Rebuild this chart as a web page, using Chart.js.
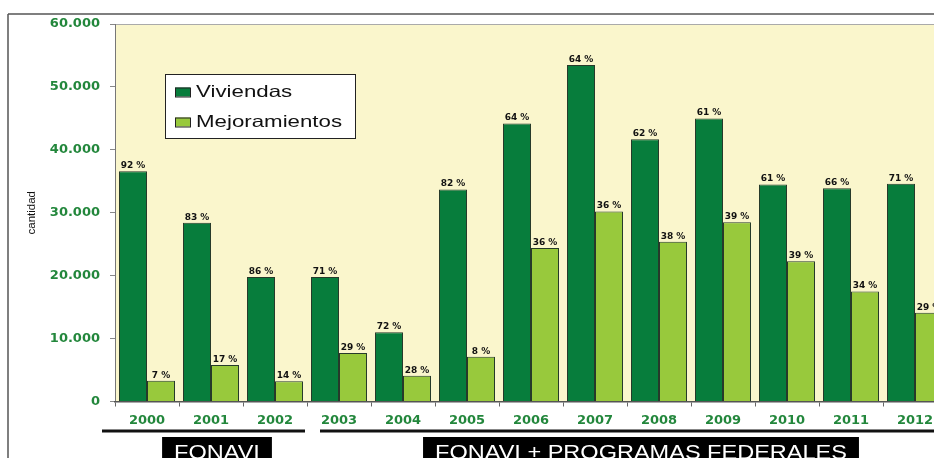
<!DOCTYPE html>
<html>
<head>
<meta charset="utf-8">
<title>Viviendas y Mejoramientos</title>
<script src="https://cdn.jsdelivr.net/npm/chart.js@4.4.0/dist/chart.umd.min.js"></script>
<style>
  html, body { margin: 0; padding: 0; background: #fff; overflow: hidden; }
  #wrap { position: absolute; left: 0; top: 0; width: 960px; height: 458px; }
</style>
</head>
<body>
<div id="wrap"><canvas id="barcanvas" width="960" height="458"></canvas></div>
<script>
// data
var years = ['2000', '2001', '2002', '2003', '2004', '2005', '2006', '2007', '2008', '2009', '2010', '2011', '2012'];
var viviendas = [36600, 28400, 19800, 19800, 11000, 33700, 44200, 53500, 41700, 45000, 34500, 33900, 34600];
var mejoramientos = [3300, 5800, 3200, 7700, 4100, 7100, 24400, 30200, 25400, 28500, 22300, 17500, 14100];
var pctViviendas = [92, 83, 86, 71, 72, 82, 64, 64, 62, 61, 61, 66, 71];
var pctMejoramientos = [7, 17, 14, 29, 28, 8, 36, 36, 38, 39, 39, 34, 29];
var seriesNames = ['Viviendas', 'Mejoramientos'];
var yTickLabels = ['0', '10.000', '20.000', '30.000', '40.000', '50.000', '60.000'];
var groupNames = ['FONAVI', 'FONAVI + PROGRAMAS FEDERALES'];
var groupFirst = ['2000', '2003'];
var groupLast = ['2002', '2012'];

var darkGreen = '#077d3c';
var lightGreen = '#98c93c';
var tickGreen = '#23873c';

// page frame, plot background
var backdrop = {
    id: 'backdrop',
    beforeDraw: function (chart) {
        var ctx = chart.ctx, a = chart.chartArea;
        ctx.save();
        ctx.fillStyle = '#fff';
        ctx.fillRect(0, 0, chart.width, chart.height);
        ctx.strokeStyle = '#555';
        ctx.lineWidth = 1.5;
        ctx.beginPath();
        ctx.moveTo(8, 14); ctx.lineTo(chart.width, 14);
        ctx.moveTo(8, 14); ctx.lineTo(8, chart.height);
        ctx.stroke();
        ctx.fillStyle = '#faf6cc';
        ctx.fillRect(a.left, a.top, a.right - a.left, a.bottom - a.top);
        ctx.strokeStyle = '#aaa';
        ctx.lineWidth = 1;
        ctx.beginPath();
        ctx.moveTo(a.left, a.top + 0.5); ctx.lineTo(a.right, a.top + 0.5);
        ctx.lineTo(a.right, a.bottom);
        ctx.stroke();
        ctx.restore();
    }
};

// percentage on top of each bar
var pctLabels = {
    id: 'pctLabels',
    afterDatasetsDraw: function (chart) {
        var ctx = chart.ctx;
        var pcts = [pctViviendas, pctMejoramientos];
        ctx.save();
        ctx.font = 'bold 9px "DejaVu Sans"';
        ctx.fillStyle = '#111';
        ctx.textAlign = 'center';
        ctx.textBaseline = 'alphabetic';
        for (var d = 0; d < 2; d++) {
            var meta = chart.getDatasetMeta(d);
            meta.data.forEach(function (bar, i) {
                ctx.fillText(pcts[d][i] + ' %', bar.x, bar.y - 3);
            });
        }
        ctx.restore();
    }
};

function stretchText(ctx, txt, x, y, sx) {
    ctx.save();
    ctx.translate(x, y);
    ctx.scale(sx, 1);
    ctx.fillText(txt, 0, 0);
    ctx.restore();
}

// legend box inside the plot, and the period brackets under the axis
var extras = {
    id: 'extras',
    afterDraw: function (chart) {
        var ctx = chart.ctx, a = chart.chartArea;
        var colors = [darkGreen, lightGreen];
        ctx.save();

        var lx = a.left + 50, ly = a.top + 50.5;
        ctx.fillStyle = '#fff';
        ctx.fillRect(lx, ly, 190, 64);
        ctx.strokeStyle = '#222';
        ctx.lineWidth = 1;
        ctx.strokeRect(lx + 0.5, ly, 190, 64);
        ctx.font = '16.5px "Liberation Sans"';
        ctx.textAlign = 'left';
        for (var s = 0; s < seriesNames.length; s++) {
            var sy = ly + 13 + s * 30;
            ctx.fillStyle = colors[s];
            ctx.fillRect(lx + 10, sy, 15, 9);
            ctx.strokeStyle = '#222';
            ctx.strokeRect(lx + 10.5, sy + 0.5, 15, 9);
            ctx.fillStyle = '#111';
            stretchText(ctx, seriesNames[s], lx + 31, sy + 9, 1.35);
        }

        var x = chart.scales.x;
        var w = x.getPixelForValue(1) - x.getPixelForValue(0);
        var insets = [[-13, -2], [13, 0]];
        var shift = [6, 14];
        for (var g = 0; g < groupNames.length; g++) {
            var x0 = x.getPixelForValue(years.indexOf(groupFirst[g])) - w / 2;
            var x1 = x.getPixelForValue(years.indexOf(groupLast[g])) + w / 2;
            ctx.strokeStyle = '#111';
            ctx.lineWidth = 3;
            ctx.beginPath();
            ctx.moveTo(x0 + insets[g][0], 431);
            ctx.lineTo(x1 + insets[g][1], 431);
            ctx.stroke();

            ctx.font = '21px "Liberation Sans"';
            var tw = ctx.measureText(groupNames[g]).width * 1.12;
            var cx = (x0 + x1) / 2 + shift[g];
            ctx.fillStyle = '#000';
            ctx.fillRect(cx - tw / 2 - 12, 437, tw + 24, 30);
            ctx.fillStyle = '#fff';
            stretchText(ctx, groupNames[g], cx - tw / 2, 459, 1.12);
        }
        ctx.restore();
    }
};

var myBarChart = new Chart(document.getElementById('barcanvas'), {
    type: 'bar',
    data: {
        labels: years,
        datasets: [{
            label: seriesNames[0],
            data: viviendas,
            backgroundColor: darkGreen,
            borderColor: '#263a2a',
            borderWidth: 1
        }, {
            label: seriesNames[1],
            data: mejoramientos,
            backgroundColor: lightGreen,
            borderColor: '#263a2a',
            borderWidth: 1
        }]
    },
    options: {
        responsive: false,
        animation: false,
        devicePixelRatio: 1,
        categoryPercentage: 0.875,
        barPercentage: 1.0,
        layout: { padding: { left: 25, top: 24, right: 13, bottom: 0 } },
        plugins: {
            legend: { display: false },
            tooltip: { enabled: false }
        },
        scales: {
            y: {
                min: 0,
                max: 60000,
                ticks: {
                    stepSize: 10000,
                    padding: 10,
                    color: tickGreen,
                    font: { family: 'DejaVu Sans', size: 13, weight: 'bold' },
                    callback: function (v, i) { return yTickLabels[i]; }
                },
                grid: { drawOnChartArea: false, drawTicks: true, tickLength: 5, color: '#888' },
                border: { color: '#777', width: 1 },
                title: {
                    display: true,
                    text: 'cantidad',
                    color: '#111',
                    font: { family: 'Liberation Sans', size: 11.5 },
                    padding: 0
                },
                afterFit: function (scale) { scale.width = 90; }
            },
            x: {
                ticks: {
                    padding: 6,
                    color: tickGreen,
                    font: { family: 'DejaVu Sans', size: 13, weight: 'bold' }
                },
                grid: { offset: true, drawOnChartArea: false, drawTicks: true, tickLength: 5, color: '#666' },
                border: { color: '#555', width: 1.5 },
                afterFit: function (scale) { scale.height = 56.5; }
            }
        }
    },
    plugins: [backdrop, pctLabels, extras]
});
</script>
</body>
</html>
